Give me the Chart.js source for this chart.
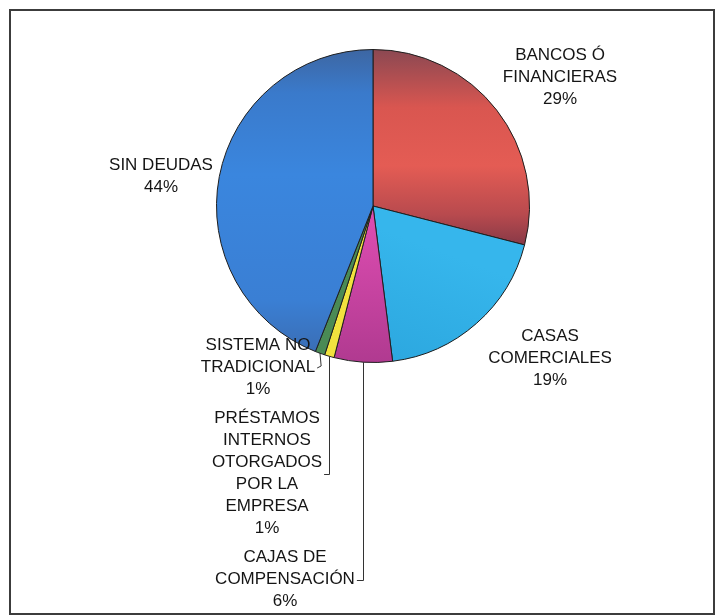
<!DOCTYPE html>
<html>
<head>
<meta charset="utf-8">
<script src="https://cdn.jsdelivr.net/npm/chart.js@4.4.1/dist/chart.umd.min.js"></script>
<style>
  html, body { margin: 0; padding: 0; background: #fff; }
  #wrap { position: relative; width: 722px; height: 616px; }
</style>
</head>
<body>
<div id="wrap"><canvas id="myChart" width="722" height="616"></canvas></div>
<script>
// Données du graphique
const categories = [
    ['BANCOS Ó', 'FINANCIERAS'],
    ['CASAS', 'COMERCIALES'],
    ['CAJAS DE', 'COMPENSACIÓN'],
    ['PRÉSTAMOS', 'INTERNOS', 'OTORGADOS', 'POR LA', 'EMPRESA'],
    ['SISTEMA NO', 'TRADICIONAL'],
    ['SIN DEUDAS']
];
const values = [29, 19, 6, 1, 1, 44];
const percentLabels = ['29%', '19%', '6%', '1%', '1%', '44%'];

// Placement des étiquettes (centre du texte, première ligne) et lignes de rappel
const labelLayout = [
    { x: 560, y: 55 },
    { x: 550, y: 336 },
    { x: 285, y: 557, leader: 'elbow' },
    { x: 267, y: 418, leader: 'elbow' },
    { x: 258, y: 345, leader: 'straight' },
    { x: 161, y: 165 }
];
const lineHeight = 22;

function fillFor(i, chart) {
    const ctx = chart.ctx;
    const area = chart.chartArea;
    const plain = ['#e25a52', '#33b4ea', '#d046a8', '#f2e23e', '#4a8a55', '#3a82d8'];
    if (!area) return plain[i];
    const top = area.top, h = area.bottom - area.top;
    let g;
    switch (i) {
        case 0:
            g = ctx.createLinearGradient(0, top, 0, top + h * 0.62);
            g.addColorStop(0, '#8a4852');
            g.addColorStop(0.3, '#d95650');
            g.addColorStop(0.6, '#e45c54');
            g.addColorStop(0.85, '#b84a4e');
            g.addColorStop(1, '#8a3a47');
            return g;
        case 1:
            g = ctx.createLinearGradient(area.left + h * 0.6, top + h * 0.6, area.left + h * 0.45, top + h);
            g.addColorStop(0, '#36b6ec');
            g.addColorStop(1, '#2ba6de');
            return g;
        case 2:
            g = ctx.createLinearGradient(0, top + h * 0.55, 0, top + h);
            g.addColorStop(0, '#dc4cb0');
            g.addColorStop(1, '#b03a90');
            return g;
        case 5:
            g = ctx.createLinearGradient(0, top, 0, top + h);
            g.addColorStop(0, '#3d66a2');
            g.addColorStop(0.14, '#3a7acb');
            g.addColorStop(0.4, '#3a86de');
            g.addColorStop(0.8, '#3a7fd4');
            g.addColorStop(1, '#3a6aae');
            return g;
        default:
            return plain[i];
    }
}

const labelPlugin = {
    id: 'pieLabels',
    afterDraw(chart) {
        const ctx = chart.ctx;
        const arcs = chart.getDatasetMeta(0).data;
        ctx.save();
        ctx.font = '17px "Liberation Sans", Arial, sans-serif';
        ctx.fillStyle = '#151515';
        ctx.textAlign = 'center';
        ctx.textBaseline = 'middle';
        ctx.strokeStyle = '#333';
        ctx.lineWidth = 1;
        categories.forEach(function (lines, i) {
            const pos = labelLayout[i];
            const all = lines.concat([percentLabels[i]]);
            let maxW = 0;
            all.forEach(function (t, k) {
                ctx.fillText(t, pos.x, pos.y + k * lineHeight);
                maxW = Math.max(maxW, ctx.measureText(t).width);
            });
            if (!pos.leader) return;
            const a = arcs[i];
            const mid = (a.startAngle + a.endAngle) / 2;
            const ex = a.x + Math.cos(mid) * a.outerRadius;
            const ey = a.y + Math.sin(mid) * a.outerRadius;
            const midY = pos.y + (all.length - 1) * lineHeight / 2 + 1;
            const right = pos.x + maxW / 2 + 2;
            ctx.beginPath();
            if (pos.leader === 'elbow') {
                ctx.moveTo(Math.round(ex) + 0.5, ey);
                ctx.lineTo(Math.round(ex) + 0.5, Math.round(midY) + 0.5);
                ctx.lineTo(right, Math.round(midY) + 0.5);
            } else {
                ctx.moveTo(right, midY);
                ctx.lineTo(right + 4, midY - 2);
                ctx.lineTo(ex, ey);
            }
            ctx.stroke();
        });
        // cadre
        ctx.strokeStyle = '#3c3c3c';
        ctx.lineWidth = 2;
        ctx.strokeRect(10, 10, 704, 604);
        ctx.restore();
    }
};

document.addEventListener('DOMContentLoaded', function () {
    const ctx = document.getElementById('myChart').getContext('2d');
    new Chart(ctx, {
        type: 'pie',
        data: {
            labels: categories,
            datasets: [{
                data: values,
                backgroundColor: function (c) { return fillFor(c.dataIndex, c.chart); },
                borderColor: '#1e1e1e',
                borderWidth: 1
            }]
        },
        options: {
            responsive: false,
            animation: false,
            layout: { padding: { left: 216, right: 192, top: 49, bottom: 253 } },
            plugins: {
                legend: { display: false },
                tooltip: { enabled: false }
            }
        },
        plugins: [labelPlugin]
    });
});
</script>
</body>
</html>
